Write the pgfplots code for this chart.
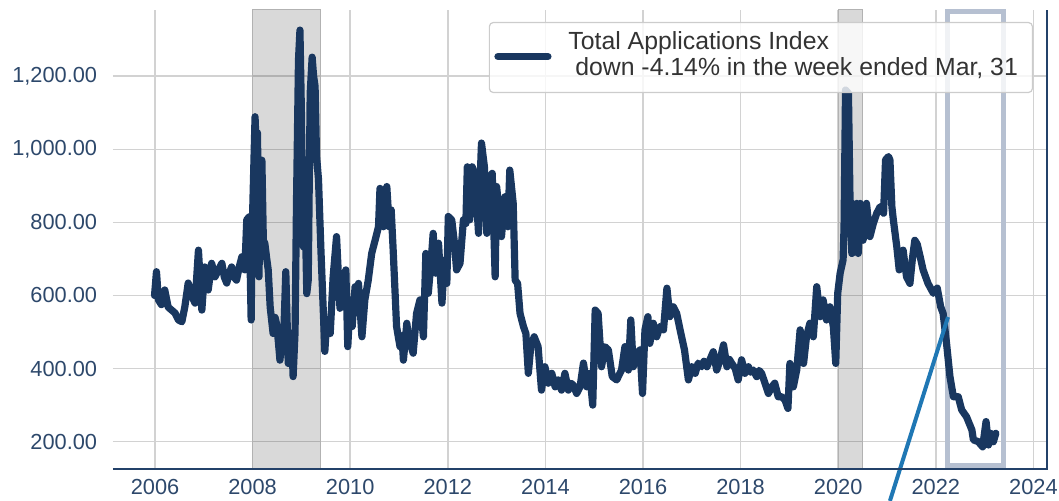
\documentclass[border=0pt]{standalone}
\usepackage{pgfplots}
\pgfplotsset{compat=1.18}
\usepackage{pgfplotstable}
\usepackage{fontspec}
\setmainfont{Liberation Sans}
\definecolor{navy}{RGB}{25,55,95}
\definecolor{ticklab}{RGB}{45,72,107}
\definecolor{spine}{RGB}{35,65,105}
\definecolor{gridc}{RGB}{210,210,210}
\definecolor{boxc}{RGB}{182,192,209}
\definecolor{annot}{RGB}{31,119,180}
\definecolor{legtext}{RGB}{51,51,51}

\pgfplotstableread{
x y
2005.99 600
2006.03 665
2006.07 588
2006.13 575
2006.20 615
2006.27 568
2006.34 560
2006.41 552
2006.48 533
2006.55 528
2006.61 568
2006.68 634
2006.75 600
2006.82 579
2006.89 724
2006.96 560
2007.02 678
2007.09 615
2007.16 688
2007.23 651
2007.30 670
2007.37 688
2007.42 650
2007.47 634
2007.52 660
2007.57 678
2007.62 650
2007.67 642
2007.73 680
2007.78 706
2007.84 670
2007.88 807
2007.93 815
2007.97 533
2007.99 770
2008.05 1089
2008.08 980
2008.10 1045
2008.13 651
2008.16 900
2008.19 970
2008.22 751
2008.25 743
2008.29 700
2008.32 670
2008.36 568
2008.40 520
2008.42 496
2008.46 540
2008.49 523
2008.53 470
2008.56 423
2008.60 480
2008.63 460
2008.68 665
2008.73 414
2008.77 470
2008.80 496
2008.83 378
2008.87 500
2008.90 861
2008.94 1244
2008.97 1326
2009.00 1100
2009.02 861
2009.04 733
2009.07 880
2009.11 605
2009.14 642
2009.18 1154
2009.22 1252
2009.25 1200
2009.28 1172
2009.31 981
2009.35 918
2009.40 724
2009.45 552
2009.48 447
2009.52 533
2009.56 520
2009.59 496
2009.65 651
2009.72 761
2009.79 565
2009.86 615
2009.91 670
2009.95 460
2010.00 588
2010.04 515
2010.10 624
2010.13 570
2010.17 633
2010.24 487
2010.30 588
2010.37 642
2010.44 715
2010.51 751
2010.58 788
2010.61 893
2010.65 820
2010.68 788
2010.75 898
2010.80 788
2010.84 834
2010.88 725
2010.92 606
2010.95 515
2011.02 460
2011.06 490
2011.09 423
2011.16 524
2011.20 480
2011.23 469
2011.29 442
2011.36 551
2011.43 588
2011.50 487
2011.55 715
2011.60 606
2011.67 715
2011.70 770
2011.75 661
2011.81 743
2011.88 579
2011.93 697
2011.98 633
2012.01 816
2012.08 807
2012.13 751
2012.18 670
2012.25 688
2012.32 807
2012.37 797
2012.40 952
2012.45 807
2012.50 952
2012.56 925
2012.63 770
2012.66 907
2012.69 1017
2012.75 952
2012.80 770
2012.86 925
2012.91 934
2012.97 651
2013.00 898
2013.05 834
2013.10 761
2013.17 870
2013.23 788
2013.27 943
2013.34 852
2013.38 642
2013.43 633
2013.48 551
2013.55 515
2013.60 496
2013.65 387
2013.70 460
2013.77 487
2013.85 460
2013.92 341
2013.99 405
2014.06 360
2014.13 387
2014.20 350
2014.26 369
2014.33 341
2014.40 387
2014.47 341
2014.52 360
2014.57 355
2014.64 332
2014.71 350
2014.78 415
2014.85 350
2014.91 387
2014.97 300
2015.02 560
2015.08 551
2015.15 405
2015.22 460
2015.29 451
2015.37 378
2015.46 369
2015.56 396
2015.63 460
2015.70 396
2015.75 533
2015.80 405
2015.87 442
2015.94 451
2015.99 332
2016.04 506
2016.10 542
2016.14 469
2016.21 524
2016.28 487
2016.35 515
2016.42 506
2016.49 620
2016.55 542
2016.62 569
2016.69 551
2016.76 506
2016.85 451
2016.93 369
2017.00 405
2017.07 387
2017.13 415
2017.20 405
2017.25 420
2017.31 405
2017.37 424
2017.44 446
2017.51 396
2017.58 424
2017.65 465
2017.72 405
2017.77 425
2017.82 414
2017.89 400
2017.95 369
2018.02 424
2018.09 387
2018.16 405
2018.21 390
2018.26 396
2018.33 378
2018.38 395
2018.43 387
2018.50 360
2018.57 332
2018.64 350
2018.70 360
2018.77 323
2018.84 323
2018.91 314
2018.97 291
2019.01 414
2019.08 350
2019.15 396
2019.22 506
2019.29 414
2019.35 487
2019.42 524
2019.49 487
2019.56 624
2019.63 542
2019.69 588
2019.76 533
2019.83 569
2019.90 515
2019.95 414
2019.99 606
2020.04 661
2020.10 697
2020.12 788
2020.15 1162
2020.21 1153
2020.24 880
2020.28 715
2020.34 724
2020.38 852
2020.41 715
2020.45 852
2020.51 751
2020.58 852
2020.65 761
2020.72 797
2020.79 825
2020.86 843
2020.93 825
2020.97 971
2021.03 980
2021.06 971
2021.10 843
2021.13 807
2021.20 734
2021.25 670
2021.33 724
2021.40 651
2021.47 633
2021.52 700
2021.57 751
2021.62 740
2021.68 706
2021.74 670
2021.84 633
2021.95 606
2022.03 620
2022.10 569
2022.15 551
2022.22 469
2022.29 378
2022.36 323
2022.46 323
2022.53 287
2022.63 268
2022.74 232
2022.77 205
2022.87 200
2022.96 186
2023.03 255
2023.08 191
2023.12 223
2023.18 200
2023.23 223
}\apps

\begin{document}
\begin{tikzpicture}
\path[use as bounding box] (-56.5pt,-16pt) rectangle (473pt,234.5pt);
\begin{axis}[
  scale only axis, width=467pt, height=229.5pt,
  at={(0pt,0pt)}, anchor=south west,
  xmin=2005.139, xmax=2024.279, ymin=125.3, ymax=1381,
  axis line style={draw=none},
  xtick={2006,2008,...,2024}, ytick={200,400,...,1200},
  major tick length=0pt,
  grid=major, major grid style={gridc, line width=0.75pt},
  tick label style={font=\fontsize{10.9}{13}\selectfont, text=ticklab},
  /pgf/number format/assume math mode=true,
  xticklabel style={/pgf/number format/1000 sep={}, yshift=-1.4pt},
  yticklabel style={/pgf/number format/.cd, fixed, fixed zerofill, precision=2, 1000 sep={,}, /tikz/.cd, xshift=-4.4pt},
  clip=false,
  legend style={at={(0.985,0.974)}, anchor=north east, draw=black!20, line width=0.6pt,
    rounded corners=2pt, fill=white, fill opacity=0.8, text opacity=1,
    font=\fontsize{12.4}{13}\selectfont, text=legtext, inner xsep=2.5pt, inner ysep=3pt,
    nodes={inner sep=0pt}},
  legend cell align=left,
  legend image code/.code={\draw[#1, line cap=round] (1.75pt,0.5pt) -- (26.75pt,0.5pt); \path[draw=none] (0pt,0pt) -- (37pt,0pt);},
]
\addplot[draw=black!30, line width=0.5pt, fill=black, fill opacity=0.15, forget plot]
  coordinates {(2008,125.3) (2008,1381) (2009.4,1381) (2009.4,125.3)} -- cycle;
\addplot[draw=black!30, line width=0.5pt, fill=black, fill opacity=0.15, forget plot]
  coordinates {(2020.0,125.3) (2020.0,1381) (2020.5,1381) (2020.5,125.3)} -- cycle;
\addplot[draw=boxc, line width=2.5pt, forget plot]
  coordinates {(2022.23,136) (2022.23,1376) (2023.38,1376) (2023.38,136)} -- cycle;
\addplot[navy, line width=3.6pt, line join=round, line cap=round] table[x=x, y=y] {\apps};
\addlegendentry{\rule{0pt}{27.5pt}\raisebox{16.85pt}{\smash{\begin{tabular}[t]{@{}l@{\hspace{4.75pt}}}Total Applications Index\\\ down -4.14\% in the week ended Mar, 31\end{tabular}}}}
\addplot[annot, line width=2pt, forget plot] coordinates {(2022.25,541) (2021.06,38)};
\draw[spine, line width=0.9pt] (rel axis cs:0,0) -- (rel axis cs:1,0) -- (rel axis cs:1,1);
\end{axis}
\end{tikzpicture}
\end{document}
